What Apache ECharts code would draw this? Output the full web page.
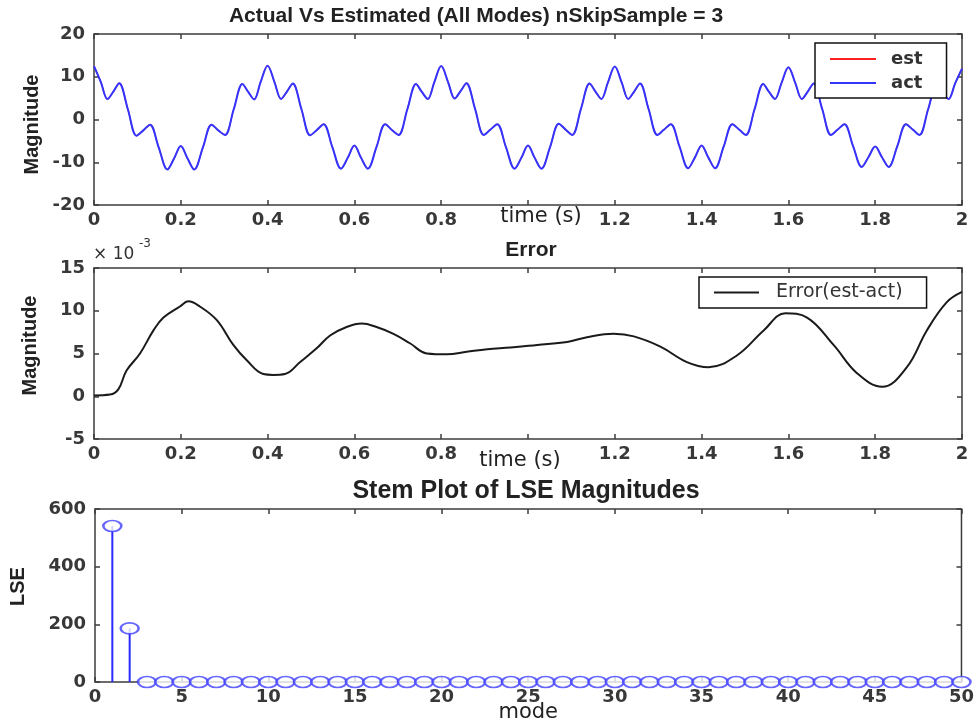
<!DOCTYPE html>
<html><head><meta charset="utf-8">
<script src="https://cdn.jsdelivr.net/npm/echarts@6/dist/echarts.min.js"></script>
<style>html,body{margin:0;padding:0;background:#fff}#c{width:977px;height:727px}</style>
</head><body><div id="c"></div>
<script>
// ---- Panel 1: actual vs estimated signal ----
const timeValues = [
  0, 0.016, 0.031, 0.045, 0.058, 0.078, 0.098, 0.113, 0.129, 0.149, 0.169, 0.185, 0.2, 0.215, 0.231, 0.251, 0.271, 0.287, 0.302, 0.322, 0.342, 0.355, 0.369, 0.384,
  0.4, 0.416, 0.431, 0.445, 0.458, 0.478, 0.498, 0.513, 0.529, 0.549, 0.569, 0.585, 0.6, 0.615, 0.631, 0.651, 0.671, 0.687, 0.702, 0.722, 0.742, 0.755, 0.769, 0.784,
  0.8, 0.816, 0.831, 0.845, 0.858, 0.878, 0.898, 0.913, 0.929, 0.949, 0.969, 0.985, 1.0, 1.015, 1.031, 1.051, 1.071, 1.087, 1.102, 1.122, 1.142, 1.155, 1.169, 1.184,
  1.2, 1.216, 1.231, 1.245, 1.258, 1.278, 1.298, 1.313, 1.329, 1.349, 1.369, 1.385, 1.4, 1.415, 1.431, 1.451, 1.471, 1.487, 1.502, 1.522, 1.542, 1.555, 1.569, 1.584,
  1.6, 1.616, 1.631, 1.645, 1.658, 1.678, 1.698, 1.713, 1.729, 1.749, 1.769, 1.785, 1.8, 1.815, 1.831, 1.851, 1.871, 1.887, 1.902, 1.922, 1.942, 1.955, 1.969, 1.984, 2.0
];
const actValues = [
  12.5, 8.7, 4.8, 6.6, 8.5, 2.4, -3.8, -2.6, -1.2, -6.5, -11.7, -9.0, -6.2, -9.0, -11.7, -6.5, -1.2, -2.6, -3.6, 2.4, 8.3, 6.5, 4.7, 8.8,
  12.6, 8.7, 4.8, 6.6, 8.4, 2.4, -3.7, -2.5, -1.1, -6.4, -11.5, -8.9, -6.1, -8.9, -11.5, -6.4, -1.1, -2.5, -3.6, 2.4, 8.3, 6.5, 4.8, 8.7,
  12.5, 8.7, 4.9, 6.7, 8.5, 2.5, -3.6, -2.4, -1.1, -6.4, -11.5, -8.9, -6.1, -8.9, -11.5, -6.4, -1.0, -2.4, -3.6, 2.5, 8.4, 6.6, 4.8, 8.6,
  12.4, 8.6, 4.8, 6.6, 8.4, 2.4, -3.6, -2.4, -1.1, -6.3, -11.4, -8.8, -6.1, -8.8, -11.4, -6.3, -1.1, -2.4, -3.6, 2.4, 8.3, 6.5, 4.8, 8.5,
  12.2, 8.5, 4.8, 6.6, 8.4, 2.4, -3.6, -2.4, -1.1, -6.2, -11.1, -8.7, -6.3, -8.7, -11.1, -6.2, -1.1, -2.4, -3.6, 2.4, 8.2, 6.4, 4.8, 8.4, 11.9
];
// the estimate lies on top of the actual signal (difference is ~1e-2)
const estValues = [
  12.5, 8.7, 4.8, 6.6, 8.5, 2.4, -3.8, -2.6, -1.2, -6.5, -11.7, -9.0, -6.2, -9.0, -11.7, -6.5, -1.2, -2.6, -3.6, 2.4, 8.3, 6.5, 4.7, 8.8,
  12.6, 8.7, 4.8, 6.6, 8.4, 2.4, -3.7, -2.5, -1.1, -6.4, -11.5, -8.9, -6.1, -8.9, -11.5, -6.4, -1.1, -2.5, -3.6, 2.4, 8.3, 6.5, 4.8, 8.7,
  12.5, 8.7, 4.9, 6.7, 8.5, 2.5, -3.6, -2.4, -1.1, -6.4, -11.5, -8.9, -6.1, -8.9, -11.5, -6.4, -1.0, -2.4, -3.6, 2.5, 8.4, 6.6, 4.8, 8.6,
  12.4, 8.6, 4.8, 6.6, 8.4, 2.4, -3.6, -2.4, -1.1, -6.3, -11.4, -8.8, -6.1, -8.8, -11.4, -6.3, -1.1, -2.4, -3.6, 2.4, 8.3, 6.5, 4.8, 8.5,
  12.2, 8.5, 4.8, 6.6, 8.4, 2.4, -3.6, -2.4, -1.1, -6.2, -11.1, -8.7, -6.3, -8.7, -11.1, -6.2, -1.1, -2.4, -3.6, 2.4, 8.2, 6.4, 4.8, 8.4, 11.9
];

// ---- Panel 2: error (units of 1e-3) ----
const errTime = [0, 0.037, 0.056, 0.075, 0.106, 0.137, 0.16, 0.198, 0.217, 0.244, 0.283, 0.321, 0.352, 0.39, 0.413, 0.44, 0.475, 0.513, 0.544, 0.582, 0.617, 0.651, 0.69, 0.728, 0.767, 0.813, 0.859, 0.906, 0.96, 1.021, 1.09, 1.136, 1.197, 1.244, 1.305, 1.366, 1.416, 1.482, 1.543, 1.593, 1.643, 1.704, 1.758, 1.816, 1.873, 1.919, 1.965, 2.0];
const errValues = [0.1, 0.2, 0.8, 3.0, 5.0, 7.7, 9.2, 10.5, 11.1, 10.5, 8.9, 6.0, 4.2, 2.6, 2.5, 2.6, 4.0, 5.6, 7.1, 8.1, 8.5, 8.1, 7.3, 6.2, 5.0, 4.9, 5.2, 5.5, 5.7, 6.0, 6.35, 6.9, 7.3, 7.0, 5.8, 4.0, 3.4, 4.8, 7.7, 9.7, 9.2, 6.0, 2.7, 1.1, 3.4, 7.7, 11.0, 12.2];

// ---- Panel 3: LSE magnitudes per mode ----
const modes = [1,2,3,4,5,6,7,8,9,10,11,12,13,14,15,16,17,18,19,20,21,22,23,24,25,26,27,28,29,30,31,32,33,34,35,36,37,38,39,40,41,42,43,44,45,46,47,48,49,50];
const lseValues = [541, 186, 0,0,0,0,0,0,0,0,  0,0,0,0,0,0,0,0,0,0,  0,0,0,0,0,0,0,0,0,0,  0,0,0,0,0,0,0,0,0,0,  0,0,0,0,0,0,0,0,0,0];

const titles = ['Actual Vs Estimated (All Modes) nSkipSample = 3', 'Error', 'Stem Plot of LSE Magnitudes'];

const actData = timeValues.map((t, i) => [t, actValues[i]]);
const estData = timeValues.map((t, i) => [t, estValues[i]]);
const errData = errTime.map((t, i) => [t, errValues[i]]);
const lseData = modes.map((m, i) => [m, lseValues[i]]);

const BOX = '#3c3c3c';
const tickFont = {fontFamily: 'DejaVu Sans', fontWeight: 'bold', fontSize: 18, color: '#383838'};
const nameFontX = {fontFamily: 'DejaVu Sans', fontSize: 21, color: '#222'};
const nameFontY = {fontFamily: 'Liberation Sans', fontWeight: 'bold', fontSize: 20, color: '#222'};

function fmt(v) { return String(Math.round(v * 1000) / 1000); }

const tickStyle = {show: true, inside: true, length: 5, lineStyle: {color: BOX, width: 1.5}};

function xBottom(gi, min, max, interval, name, gap, pad, hide) {
  return {
    type: 'value', gridIndex: gi, position: 'bottom', min, max, interval,
    name, nameLocation: 'middle', nameGap: gap, nameMoveOverlap: false,
    nameTextStyle: Object.assign({padding: pad}, nameFontX),
    axisLine: {show: false, onZero: false}, splitLine: {show: false},
    axisTick: tickStyle,
    axisLabel: Object.assign({margin: 6, showMinLabel: true, showMaxLabel: true,
      formatter: v => (hide.indexOf(Math.round(v * 1000) / 1000) >= 0 ? '' : fmt(v))}, tickFont)
  };
}
function xTop(gi, min, max, interval) {
  return {
    type: 'value', gridIndex: gi, position: 'top', min, max, interval,
    axisLine: {show: false, onZero: false}, splitLine: {show: false}, axisLabel: {show: false},
    axisTick: tickStyle
  };
}
function yLeft(gi, min, max, interval, name, gap, pad) {
  return {
    type: 'value', gridIndex: gi, position: 'left', min, max, interval,
    name, nameLocation: 'middle', nameGap: gap, nameRotate: 90, nameMoveOverlap: false,
    nameTextStyle: Object.assign({padding: pad}, nameFontY),
    axisLine: {show: false, onZero: false}, splitLine: {show: false},
    axisTick: tickStyle,
    axisLabel: Object.assign({margin: 9, formatter: v => fmt(v)}, tickFont)
  };
}
function yRight(gi, min, max, interval) {
  return {
    type: 'value', gridIndex: gi, position: 'right', min, max, interval,
    axisLine: {show: false, onZero: false}, splitLine: {show: false}, axisLabel: {show: false},
    axisTick: tickStyle
  };
}

const gridBase = {show: true, borderColor: BOX, borderWidth: 1.5, backgroundColor: '#fff', containLabel: false};

const option = {
  animation: false,
  backgroundColor: '#fff',
  grid: [
    Object.assign({left: 94, top: 34, width: 868, height: 171}, gridBase),
    Object.assign({left: 94, top: 268, width: 868, height: 171}, gridBase),
    Object.assign({left: 94, top: 509, width: 868, height: 173}, gridBase)
  ],
  xAxis: [
    xBottom(0, 0, 2, 0.2, 'time (s)', 1, [0, 0, 0, 26], [1]),
    xBottom(1, 0, 2, 0.2, 'time (s)', 11, [0, 16, 0, 0], [1]),
    xBottom(2, 0, 50, 5, 'mode', 20, [0, 0, 0, 0], []),
    xTop(0, 0, 2, 0.2), xTop(1, 0, 2, 0.2), xTop(2, 0, 50, 5)
  ],
  yAxis: [
    yLeft(0, -20, 20, 10, 'Magnitude', 52, [0, 10, 0, 0]),
    yLeft(1, -5, 15, 5, 'Magnitude', 54, [0, 0, 0, 16]),
    yLeft(2, 0, 600, 200, 'LSE', 67, [0, 0, 0, 18]),
    yRight(0, -20, 20, 10), yRight(1, -5, 15, 5), yRight(2, 0, 600, 200)
  ],
  legend: [
    {
      orient: 'vertical', left: 815, top: 43, data: ['est', 'act'],
      backgroundColor: '#fff', borderColor: '#111', borderWidth: 1.5, borderRadius: 0,
      padding: [7, 24, 6, 14], itemWidth: 46, itemHeight: 14, itemGap: 6,
      itemStyle: {opacity: 0},
      textStyle: {fontFamily: 'DejaVu Sans', fontWeight: 'bold', fontSize: 18, color: '#333', padding: [0, 0, 0, 10]}
    },
    {
      orient: 'vertical', left: 699, top: 277, data: ['Error(est-act)'],
      backgroundColor: '#fff', borderColor: '#111', borderWidth: 1.5, borderRadius: 0,
      padding: [6, 24, 6, 14], itemWidth: 45, itemHeight: 15,
      itemStyle: {opacity: 0},
      textStyle: {fontFamily: 'DejaVu Sans', fontSize: 19, color: '#333', padding: [0, 0, 0, 12]}
    }
  ],
  graphic: [
    {type: 'text', x: 476, y: 16, style: {text: titles[0], textAlign: 'center', textVerticalAlign: 'middle',
      font: 'bold 21px "Liberation Sans"', fill: '#222'}},
    {type: 'text', x: 531, y: 250, style: {text: titles[1], textAlign: 'center', textVerticalAlign: 'middle',
      font: 'bold 21px "Liberation Sans"', fill: '#222'}},
    {type: 'text', x: 526, y: 491, style: {text: titles[2], textAlign: 'center', textVerticalAlign: 'middle',
      font: 'bold 25px "Liberation Sans"', fill: '#222'}},
    {type: 'text', x: 93, y: 255, style: {text: '× 10', textVerticalAlign: 'middle',
      font: '17px "DejaVu Sans"', fill: '#333'}},
    {type: 'text', x: 139, y: 244, style: {text: '-3', textVerticalAlign: 'middle',
      font: '12px "DejaVu Sans"', fill: '#333'}}
  ],
  series: [
    {name: 'est', type: 'line', xAxisIndex: 0, yAxisIndex: 0, data: estData, symbol: 'none',
      smooth: 0.35, lineStyle: {color: '#ff2020', width: 1.2}, itemStyle: {color: '#ff2020'}},
    {name: 'act', type: 'line', xAxisIndex: 0, yAxisIndex: 0, data: actData, symbol: 'none',
      smooth: 0.35, lineStyle: {color: '#3434ff', width: 2}, itemStyle: {color: '#3434ff'}},
    {name: 'Error(est-act)', type: 'line', xAxisIndex: 1, yAxisIndex: 1, data: errData, symbol: 'none',
      smooth: 0.4, lineStyle: {color: '#1a1a1a', width: 2}, itemStyle: {color: '#1a1a1a'}},
    {name: 'stem', type: 'bar', xAxisIndex: 2, yAxisIndex: 2, data: lseData, barWidth: 2,
      itemStyle: {color: '#2a2aff'}},
    {name: 'stemHead', type: 'scatter', xAxisIndex: 2, yAxisIndex: 2, data: lseData, clip: false,
      symbol: 'emptyCircle', symbolSize: [18, 11],
      itemStyle: {color: '#4040ff', borderColor: '#4040ff', borderWidth: 1.8}, z: 5}
  ]
};

const chart = echarts.init(document.getElementById('c'), null, {renderer: 'canvas'});
chart.setOption(option);
</script>
</body></html>
